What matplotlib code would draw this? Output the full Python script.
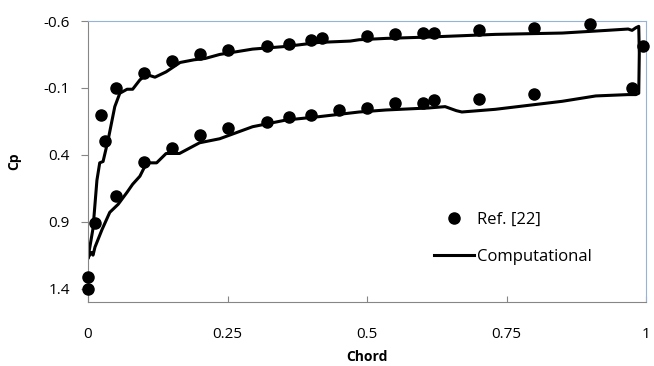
import numpy as np
import matplotlib
matplotlib.use('Agg')
import matplotlib.pyplot as plt

plt.rcParams['font.family'] = ['Open Sans', 'DejaVu Sans']

# Ref. [22] measured points
ref_chord = [0.0, 0.0, 0.012, 0.023, 0.03, 0.05, 0.05, 0.10, 0.10, 0.15, 0.15, 0.20, 0.20,
             0.25, 0.25, 0.32, 0.32, 0.36, 0.36, 0.40, 0.40, 0.42, 0.45, 0.50, 0.50,
             0.55, 0.55, 0.60, 0.60, 0.62, 0.62, 0.70, 0.70, 0.80, 0.80, 0.90, 0.975, 0.995]
ref_cp = [1.40, 1.31, 0.91, 0.10, 0.30, -0.10, 0.71, -0.21, 0.45, -0.30, 0.35, -0.35, 0.25,
          -0.38, 0.20, -0.41, 0.155, -0.43, 0.115, -0.46, 0.10, -0.47, 0.065, -0.49, 0.05,
          -0.50, 0.01, -0.51, 0.01, -0.51, -0.01, -0.53, -0.02, -0.55, -0.055, -0.58, -0.10, -0.41]

# Computational curve (closed loop: upper surface out, lower surface back)
comp_chord = [0.0, 0.009, 0.016, 0.021, 0.027, 0.036, 0.048, 0.057, 0.07, 0.08, 0.093, 0.105,
              0.12, 0.14, 0.165, 0.19, 0.21, 0.236, 0.295, 0.355, 0.414, 0.47, 0.486, 0.534,
              0.61, 0.73, 0.85, 0.93, 0.968, 0.975, 0.982, 0.987, 0.988, 0.987, 0.982,
              0.968, 0.91, 0.85, 0.79, 0.73, 0.67, 0.66, 0.64, 0.61, 0.534, 0.486, 0.414,
              0.355, 0.295, 0.236, 0.2, 0.164, 0.14, 0.123, 0.105, 0.093, 0.08, 0.07,
              0.054, 0.039, 0.025, 0.0125, 0.009, 0.006, 0.0]
comp_cp = [1.17, 0.95, 0.59, 0.46, 0.45, 0.29, 0.04, -0.06, -0.09, -0.09, -0.16, -0.20,
           -0.18, -0.22, -0.29, -0.31, -0.32, -0.35, -0.39, -0.41, -0.44, -0.45, -0.46, -0.47,
           -0.48, -0.50, -0.51, -0.53, -0.54, -0.53, -0.55, -0.56, -0.36, -0.06, -0.05,
           -0.05, -0.04, 0.00, 0.03, 0.06, 0.08, 0.07, 0.04, 0.05, 0.065, 0.08, 0.115,
           0.14, 0.19, 0.28, 0.31, 0.39, 0.39, 0.46, 0.46, 0.56, 0.62, 0.68,
           0.77, 0.83, 0.96, 1.09, 1.15, 1.13, 1.17]

fig = plt.figure(figsize=(6.54, 3.66), dpi=100)
ax = fig.add_axes([88 / 654, 64 / 366, 558 / 654, 281 / 366])

ax.plot(comp_chord, comp_cp, color='black', lw=2.2, zorder=2, label='Computational',
        solid_joinstyle='round')
ax.plot(ref_chord, ref_cp, 'o', color='black', ms=8, zorder=3, label='Ref. [22]',
        clip_on=False)

ax.set_xlim(0, 1)
ax.set_ylim(1.5, -0.6)
ax.set_xticks([0, 0.25, 0.5, 0.75, 1])
ax.set_xticklabels(['0', '0.25', '0.5', '0.75', '1'])
ax.set_yticks([-0.6, -0.1, 0.4, 0.9, 1.4])
ax.set_yticklabels(['-0.6', '-0.1', '0.4', '0.9', '1.4'])

ax.tick_params(axis='x', direction='in', length=4, color='#868686', labelsize=11, pad=18)
ax.tick_params(axis='y', direction='out', length=5, color='#868686', labelsize=11, pad=8)
for s in ['left', 'bottom']:
    ax.spines[s].set_color('#868686')
for s in ['top', 'right']:
    ax.spines[s].set_color('#95b3d7')

ax.set_xlabel('Chord', fontsize=10, fontweight='bold', labelpad=6)
ax.set_ylabel('Cp', fontsize=10, fontweight='bold', labelpad=16)

handles, labels = ax.get_legend_handles_labels()
leg = fig.legend(handles[::-1], labels[::-1], loc='upper left',
                 bbox_to_anchor=(434 / 654, 1 - 212 / 366), frameon=False,
                 fontsize=12, handlelength=2.4, handletextpad=0.15,
                 labelspacing=1.25, borderpad=0, borderaxespad=0)

fig.savefig('out.png', dpi=100)
